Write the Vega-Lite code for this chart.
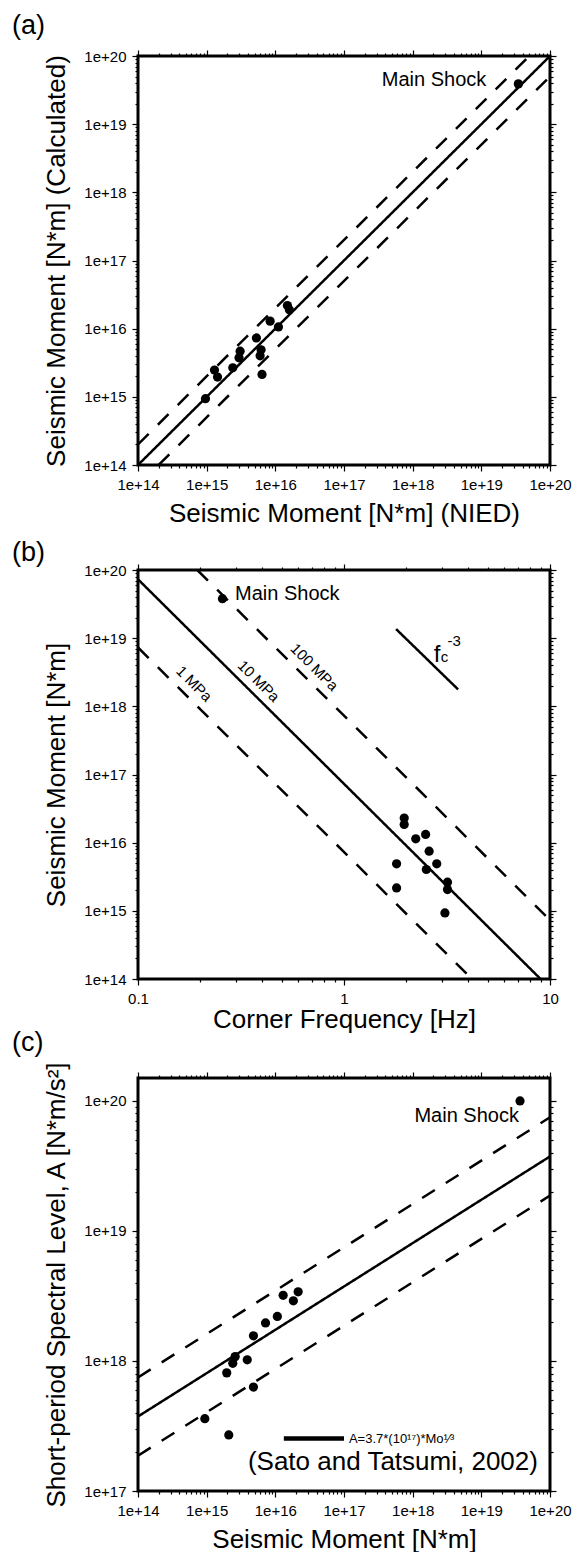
{
  "$schema": "https://vega.github.io/schema/vega-lite/v6.json",
  "padding": {"left": 10, "top": 10, "right": 3, "bottom": 0},
  "background": "white",
  "config": {
    "font": "Liberation Sans",
    "view": {"stroke": "black", "strokeWidth": 3},
    "axis": {"domain": false, "grid": false, "tickColor": "black", "tickWidth": 1.2, "labelColor": "black", "labelFontSize": 15, "titleFontSize": 26, "titleFontWeight": "normal", "titleColor": "black", "labelFlush": false, "labelOverlap": false},
    "title": {"anchor": "start", "frame": "group", "dx": -126, "fontSize": 27, "fontWeight": "normal", "color": "black"}
  },
  "spacing": -7,
  "vconcat": [
    {
      "spacing": 9,
      "vconcat": [
        {
          "title": {"text": "(a)", "offset": 9},
          "width": 412, "height": 409,
          "resolve": {"axis": {"x": "independent", "y": "independent"}},
          "layer": [
            {
              "data": {"values": [
                {"line": "eq", "style": "solid", "x": 1e14, "y": 1e14}, {"line": "eq", "style": "solid", "x": 1e20, "y": 1e20},
                {"line": "up", "style": "dashed", "x": 1e14, "y": 2e14}, {"line": "up", "style": "dashed", "x": 5e19, "y": 1e20},
                {"line": "lo", "style": "dashed", "x": 2e14, "y": 1e14}, {"line": "lo", "style": "dashed", "x": 1e20, "y": 5e19}
              ]},
              "mark": {"type": "line", "color": "black", "strokeWidth": 2.5, "clip": true},
              "encoding": {
                "x": {"field": "x", "type": "quantitative", "scale": {"type": "log", "domain": [1e14, 1e20], "nice": false},
                  "axis": {"orient": "bottom", "title": "Seismic Moment [N*m] (NIED)", "tickCount": 7, "labelExpr": "abs(log(datum.value)/LN10 - round(log(datum.value)/LN10)) < 0.001 ? format(datum.value, '.0e') : ''", "tickSize": {"condition": {"test": "abs(log(datum.value)/LN10 - round(log(datum.value)/LN10)) < 0.001", "value": 6}, "value": 3}, "labelPadding": 6, "titlePadding": 8}},
                "y": {"field": "y", "type": "quantitative", "scale": {"type": "log", "domain": [1e14, 1e20], "nice": false},
                  "axis": {"orient": "left", "title": "Seismic Moment [N*m] (Calculated)", "tickCount": 7, "labelExpr": "abs(log(datum.value)/LN10 - round(log(datum.value)/LN10)) < 0.001 ? format(datum.value, '.0e') : ''", "tickSize": {"condition": {"test": "abs(log(datum.value)/LN10 - round(log(datum.value)/LN10)) < 0.001", "value": 6}, "value": 3}, "labelPadding": 6, "titlePadding": 14}},
                "detail": {"field": "line"},
                "strokeDash": {"field": "style", "type": "nominal", "scale": {"domain": ["solid", "dashed"], "range": [[1, 0], [15, 13]]}, "legend": null}
              }
            },
            {
              "data": {"values": [
                {"x": 9.6e14, "y": 9.4e14}, {"x": 1.3e15, "y": 2.47e15}, {"x": 1.44e15, "y": 1.95e15}, {"x": 2.4e15, "y": 2.67e15},
                {"x": 3.07e15, "y": 4.68e15}, {"x": 2.96e15, "y": 3.73e15}, {"x": 5.3e15, "y": 7.3e15}, {"x": 6.2e15, "y": 4.9e15},
                {"x": 6.0e15, "y": 4.0e15}, {"x": 6.4e15, "y": 2.13e15}, {"x": 8.4e15, "y": 1.29e16}, {"x": 1.11e16, "y": 1.06e16},
                {"x": 1.5e16, "y": 2.18e16}, {"x": 1.6e16, "y": 1.9e16}, {"x": 3.46e19, "y": 3.9e19}
              ]},
              "mark": {"type": "circle", "size": 85, "color": "black", "opacity": 1},
              "encoding": {
                "x": {"field": "x", "type": "quantitative", "scale": {"type": "log", "domain": [1e14, 1e20], "nice": false}, "axis": null},
                "y": {"field": "y", "type": "quantitative", "scale": {"type": "log", "domain": [1e14, 1e20], "nice": false}, "axis": null}
              }
            },
            {
              "data": {"values": [{"x": 1.18e19, "y": 4.46e19, "label": "Main Shock"}]},
              "mark": {"type": "text", "align": "right", "baseline": "middle", "fontSize": 20, "color": "black"},
              "encoding": {
                "x": {"field": "x", "type": "quantitative", "scale": {"type": "log", "domain": [1e14, 1e20], "nice": false}, "axis": null},
                "y": {"field": "y", "type": "quantitative", "scale": {"type": "log", "domain": [1e14, 1e20], "nice": false}, "axis": null},
                "text": {"field": "label"}
              }
            },
            {
              "data": {"values": [{"x": 1e15, "y": 1e15}]},
              "mark": {"type": "point", "opacity": 0},
              "encoding": {
                "x": {"field": "x", "type": "quantitative", "scale": {"type": "log", "domain": [1e14, 1e20], "nice": false},
                  "axis": {"orient": "top", "labels": false, "title": null, "tickCount": 7, "tickSize": {"condition": {"test": "abs(log(datum.value)/LN10 - round(log(datum.value)/LN10)) < 0.001", "value": 6}, "value": 3}}},
                "y": {"field": "y", "type": "quantitative", "scale": {"type": "log", "domain": [1e14, 1e20], "nice": false},
                  "axis": {"orient": "right", "labels": false, "title": null, "tickCount": 7, "tickSize": {"condition": {"test": "abs(log(datum.value)/LN10 - round(log(datum.value)/LN10)) < 0.001", "value": 6}, "value": 3}}}
              }
            }
          ]
        },
        {
          "title": {"text": "(b)", "offset": -4},
          "width": 412, "height": 409,
          "resolve": {"axis": {"x": "independent", "y": "independent"}},
          "layer": [
            {
              "data": {"values": [
                {"line": "1MPa", "style": "dashed", "x": 0.1, "y": 7.3e18}, {"line": "1MPa", "style": "dashed", "x": 4.18, "y": 1e14},
                {"line": "10MPa", "style": "solid", "x": 0.1, "y": 7.3e19}, {"line": "10MPa", "style": "solid", "x": 9.0, "y": 1e14},
                {"line": "100MPa", "style": "dashed", "x": 0.194, "y": 1e20}, {"line": "100MPa", "style": "dashed", "x": 10, "y": 7.3e14},
                {"line": "fc3", "style": "solid", "x": 1.79, "y": 1.36e19}, {"line": "fc3", "style": "solid", "x": 3.58, "y": 1.77e18}
              ]},
              "mark": {"type": "line", "color": "black", "strokeWidth": 2.5, "clip": true},
              "encoding": {
                "x": {"field": "x", "type": "quantitative", "scale": {"type": "log", "domain": [0.1, 10], "nice": false},
                  "axis": {"orient": "bottom", "title": "Corner Frequency [Hz]", "tickCount": 3, "labelExpr": "abs(log(datum.value)/LN10 - round(log(datum.value)/LN10)) < 0.001 ? format(datum.value, '~g') : ''", "tickSize": {"condition": {"test": "abs(log(datum.value)/LN10 - round(log(datum.value)/LN10)) < 0.001", "value": 6}, "value": 3}, "labelPadding": 6, "titlePadding": 0}},
                "y": {"field": "y", "type": "quantitative", "scale": {"type": "log", "domain": [1e14, 1e20], "nice": false},
                  "axis": {"orient": "left", "title": "Seismic Moment [N*m]", "tickCount": 7, "labelExpr": "abs(log(datum.value)/LN10 - round(log(datum.value)/LN10)) < 0.001 ? format(datum.value, '.0e') : ''", "tickSize": {"condition": {"test": "abs(log(datum.value)/LN10 - round(log(datum.value)/LN10)) < 0.001", "value": 6}, "value": 3}, "labelPadding": 6, "titlePadding": 14}},
                "detail": {"field": "line"},
                "strokeDash": {"field": "style", "type": "nominal", "scale": {"domain": ["solid", "dashed"], "range": [[1, 0], [15, 13]]}, "legend": null}
              }
            },
            {
              "data": {"values": [
                {"x": 0.257, "y": 3.8e19}, {"x": 1.96, "y": 2.3e16}, {"x": 1.96, "y": 1.85e16}, {"x": 2.23, "y": 1.14e16},
                {"x": 2.49, "y": 1.32e16}, {"x": 2.59, "y": 7.5e15}, {"x": 1.8, "y": 4.9e15}, {"x": 2.82, "y": 4.9e15},
                {"x": 2.51, "y": 4.04e15}, {"x": 3.18, "y": 2.63e15}, {"x": 3.18, "y": 2.05e15}, {"x": 1.8, "y": 2.17e15},
                {"x": 3.09, "y": 9.3e14}
              ]},
              "mark": {"type": "circle", "size": 85, "color": "black", "opacity": 1},
              "encoding": {
                "x": {"field": "x", "type": "quantitative", "scale": {"type": "log", "domain": [0.1, 10], "nice": false}, "axis": null},
                "y": {"field": "y", "type": "quantitative", "scale": {"type": "log", "domain": [1e14, 1e20], "nice": false}, "axis": null}
              }
            },
            {
              "data": {"values": [{"x": 0.296, "y": 4.4e19, "label": "Main Shock"}]},
              "mark": {"type": "text", "align": "left", "baseline": "middle", "fontSize": 20, "color": "black"},
              "encoding": {
                "x": {"field": "x", "type": "quantitative", "scale": {"type": "log", "domain": [0.1, 10], "nice": false}, "axis": null},
                "y": {"field": "y", "type": "quantitative", "scale": {"type": "log", "domain": [1e14, 1e20], "nice": false}, "axis": null},
                "text": {"field": "label"}
              }
            },
            {
              "data": {"values": [
                {"x": 0.187, "y": 2.14e18, "label": "1 MPa"},
                {"x": 0.385, "y": 2.34e18, "label": "10 MPa"},
                {"x": 0.718, "y": 3.75e18, "label": "100 MPa"}
              ]},
              "mark": {"type": "text", "align": "center", "baseline": "middle", "fontSize": 15, "angle": 45, "color": "black"},
              "encoding": {
                "x": {"field": "x", "type": "quantitative", "scale": {"type": "log", "domain": [0.1, 10], "nice": false}, "axis": null},
                "y": {"field": "y", "type": "quantitative", "scale": {"type": "log", "domain": [1e14, 1e20], "nice": false}, "axis": null},
                "text": {"field": "label"}
              }
            },
            {
              "data": {"values": [{"x": 2.73, "y": 4.54e18, "label": "f"}]},
              "mark": {"type": "text", "align": "left", "baseline": "alphabetic", "fontSize": 24, "color": "black"},
              "encoding": {
                "x": {"field": "x", "type": "quantitative", "scale": {"type": "log", "domain": [0.1, 10], "nice": false}, "axis": null},
                "y": {"field": "y", "type": "quantitative", "scale": {"type": "log", "domain": [1e14, 1e20], "nice": false}, "axis": null},
                "text": {"field": "label"}
              }
            },
            {
              "data": {"values": [{"x": 2.95, "y": 4.54e18, "label": "c"}, {"x": 3.18, "y": 7.76e18, "label": "-3"}]},
              "mark": {"type": "text", "align": "left", "baseline": "alphabetic", "fontSize": 15, "color": "black"},
              "encoding": {
                "x": {"field": "x", "type": "quantitative", "scale": {"type": "log", "domain": [0.1, 10], "nice": false}, "axis": null},
                "y": {"field": "y", "type": "quantitative", "scale": {"type": "log", "domain": [1e14, 1e20], "nice": false}, "axis": null},
                "text": {"field": "label"}
              }
            },
            {
              "data": {"values": [{"x": 1, "y": 1e15}]},
              "mark": {"type": "point", "opacity": 0},
              "encoding": {
                "x": {"field": "x", "type": "quantitative", "scale": {"type": "log", "domain": [0.1, 10], "nice": false},
                  "axis": {"orient": "top", "labels": false, "title": null, "tickCount": 3, "tickSize": {"condition": {"test": "abs(log(datum.value)/LN10 - round(log(datum.value)/LN10)) < 0.001", "value": 6}, "value": 3}}},
                "y": {"field": "y", "type": "quantitative", "scale": {"type": "log", "domain": [1e14, 1e20], "nice": false},
                  "axis": {"orient": "right", "labels": false, "title": null, "tickCount": 7, "tickSize": {"condition": {"test": "abs(log(datum.value)/LN10 - round(log(datum.value)/LN10)) < 0.001", "value": 6}, "value": 3}}}
              }
            }
          ]
        }
      ]
    },
    {
      "title": {"text": "(c)", "offset": 4},
      "width": 412, "height": 413,
      "resolve": {"axis": {"x": "independent", "y": "independent"}},
      "layer": [
        {
          "data": {"values": [
            {"line": "st", "style": "solid", "x": 1e14, "y": 3.74e17}, {"line": "st", "style": "solid", "x": 1e20, "y": 3.74e19},
            {"line": "up", "style": "dashed", "x": 1e14, "y": 7.48e17}, {"line": "up", "style": "dashed", "x": 1e20, "y": 7.48e19},
            {"line": "lo", "style": "dashed", "x": 1e14, "y": 1.87e17}, {"line": "lo", "style": "dashed", "x": 1e20, "y": 1.87e19}
          ]},
          "mark": {"type": "line", "color": "black", "strokeWidth": 2.5, "clip": true},
          "encoding": {
            "x": {"field": "x", "type": "quantitative", "scale": {"type": "log", "domain": [1e14, 1e20], "nice": false},
              "axis": {"orient": "bottom", "title": "Seismic Moment [N*m]", "tickCount": 7, "labelExpr": "abs(log(datum.value)/LN10 - round(log(datum.value)/LN10)) < 0.001 ? format(datum.value, '.0e') : ''", "tickSize": {"condition": {"test": "abs(log(datum.value)/LN10 - round(log(datum.value)/LN10)) < 0.001", "value": 6}, "value": 3}, "labelPadding": 6, "titlePadding": 8}},
            "y": {"field": "y", "type": "quantitative", "scale": {"type": "log", "domain": [1e17, 1.5e20], "nice": false},
              "axis": {"orient": "left", "title": "Short-period Spectral Level, A [N*m/s²]", "tickCount": 4, "labelExpr": "abs(log(datum.value)/LN10 - round(log(datum.value)/LN10)) < 0.001 ? format(datum.value, '.0e') : ''", "tickSize": {"condition": {"test": "abs(log(datum.value)/LN10 - round(log(datum.value)/LN10)) < 0.001", "value": 6}, "value": 3}, "labelPadding": 6, "titlePadding": 14}},
            "detail": {"field": "line"},
            "strokeDash": {"field": "style", "type": "nominal", "scale": {"domain": ["solid", "dashed"], "range": [[1, 0], [15, 13]]}, "legend": null}
          }
        },
        {
          "data": {"values": [
            {"x": 9.4e14, "y": 3.6e17}, {"x": 2.1e15, "y": 2.7e17}, {"x": 1.96e15, "y": 8.1e17}, {"x": 2.4e15, "y": 9.6e17},
            {"x": 2.6e15, "y": 1.08e18}, {"x": 3.9e15, "y": 1.02e18}, {"x": 4.8e15, "y": 6.3e17}, {"x": 4.8e15, "y": 1.56e18},
            {"x": 7.2e15, "y": 1.96e18}, {"x": 1.07e16, "y": 2.2e18}, {"x": 1.3e16, "y": 3.2e18}, {"x": 1.83e16, "y": 2.9e18},
            {"x": 2.15e16, "y": 3.4e18}, {"x": 3.66e19, "y": 1.0e20}
          ]},
          "mark": {"type": "circle", "size": 85, "color": "black", "opacity": 1},
          "encoding": {
            "x": {"field": "x", "type": "quantitative", "scale": {"type": "log", "domain": [1e14, 1e20], "nice": false}, "axis": null},
            "y": {"field": "y", "type": "quantitative", "scale": {"type": "log", "domain": [1e17, 1.5e20], "nice": false}, "axis": null}
          }
        },
        {
          "data": {"values": [{"x": 1.33e16, "x2": 1.0e17, "y": 2.53e17}]},
          "mark": {"type": "rule", "color": "black", "strokeWidth": 4.5},
          "encoding": {
            "x": {"field": "x", "type": "quantitative", "scale": {"type": "log", "domain": [1e14, 1e20], "nice": false}, "axis": null},
            "x2": {"field": "x2"},
            "y": {"field": "y", "type": "quantitative", "scale": {"type": "log", "domain": [1e17, 1.5e20], "nice": false}, "axis": null}
          }
        },
        {
          "data": {"values": [{"x": 3.53e19, "y": 7.6e19, "label": "Main Shock"}]},
          "mark": {"type": "text", "align": "right", "baseline": "middle", "fontSize": 20, "color": "black"},
          "encoding": {
            "x": {"field": "x", "type": "quantitative", "scale": {"type": "log", "domain": [1e14, 1e20], "nice": false}, "axis": null},
            "y": {"field": "y", "type": "quantitative", "scale": {"type": "log", "domain": [1e17, 1.5e20], "nice": false}, "axis": null},
            "text": {"field": "label"}
          }
        },
        {
          "data": {"values": [{"x": 1.18e17, "y": 2.36e17, "label": "A=3.7*(10¹⁷)*Mo¹⁄³"}]},
          "mark": {"type": "text", "align": "left", "baseline": "alphabetic", "fontSize": 13, "color": "black"},
          "encoding": {
            "x": {"field": "x", "type": "quantitative", "scale": {"type": "log", "domain": [1e14, 1e20], "nice": false}, "axis": null},
            "y": {"field": "y", "type": "quantitative", "scale": {"type": "log", "domain": [1e17, 1.5e20], "nice": false}, "axis": null},
            "text": {"field": "label"}
          }
        },
        {
          "data": {"values": [{"x": 6.67e19, "y": 1.45e17, "label": "(Sato and Tatsumi, 2002)"}]},
          "mark": {"type": "text", "align": "right", "baseline": "alphabetic", "fontSize": 26, "color": "black"},
          "encoding": {
            "x": {"field": "x", "type": "quantitative", "scale": {"type": "log", "domain": [1e14, 1e20], "nice": false}, "axis": null},
            "y": {"field": "y", "type": "quantitative", "scale": {"type": "log", "domain": [1e17, 1.5e20], "nice": false}, "axis": null},
            "text": {"field": "label"}
          }
        },
        {
          "data": {"values": [{"x": 1e15, "y": 1e18}]},
          "mark": {"type": "point", "opacity": 0},
          "encoding": {
            "x": {"field": "x", "type": "quantitative", "scale": {"type": "log", "domain": [1e14, 1e20], "nice": false},
              "axis": {"orient": "top", "labels": false, "title": null, "tickCount": 7, "tickSize": {"condition": {"test": "abs(log(datum.value)/LN10 - round(log(datum.value)/LN10)) < 0.001", "value": 6}, "value": 3}}},
            "y": {"field": "y", "type": "quantitative", "scale": {"type": "log", "domain": [1e17, 1.5e20], "nice": false},
              "axis": {"orient": "right", "labels": false, "title": null, "tickCount": 4, "tickSize": {"condition": {"test": "abs(log(datum.value)/LN10 - round(log(datum.value)/LN10)) < 0.001", "value": 6}, "value": 3}}}
          }
        }
      ]
    }
  ]
}
